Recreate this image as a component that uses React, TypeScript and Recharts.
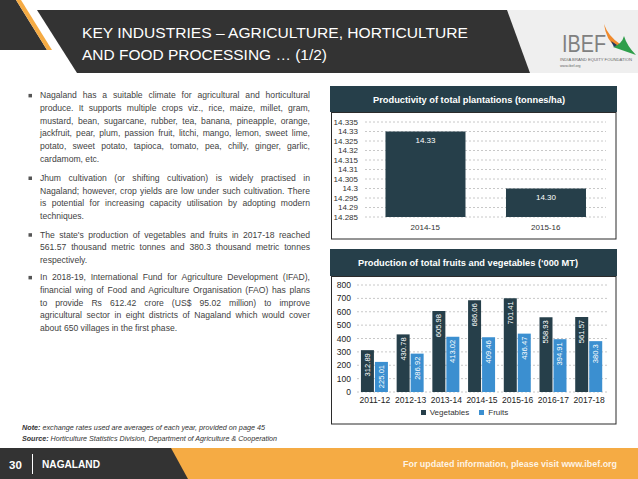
import React from 'react';
import { BarChart, Bar, XAxis, YAxis, CartesianGrid, LabelList, Legend } from 'recharts';

// ---------- data ----------
const prodYears = ['2014-15', '2015-16'];
const prodValues = [14.33, 14.3];
const prodTickLabels = ['14.285', '14.29', '14.295', '14.3', '14.305', '14.31', '14.315', '14.32', '14.325', '14.33', '14.335'];

const fvYears = ['2011-12', '2012-13', '2013-14', '2014-15', '2015-16', '2016-17', '2017-18'];
const vegetables = [312.89, 430.78, 605.98, 686.06, 701.41, 558.93, 561.57];
const fruits = [225.01, 286.92, 413.02, 409.46, 436.47, 394.91, 380.3];
const fvTicks = [0, 100, 200, 300, 400, 500, 600, 700, 800];
const seriesOrder = ['Vegetables', 'Fruits'];

const bullets = [
  [
    'Nagaland has a suitable climate for agricultural and horticultural',
    'produce. It supports multiple crops viz., rice, maize, millet, gram,',
    'mustard, bean, sugarcane, rubber, tea, banana, pineapple, orange,',
    'jackfruit, pear, plum, passion fruit, litchi, mango, lemon, sweet lime,',
    'potato, sweet potato, tapioca, tomato, pea, chilly, ginger, garlic,',
    'cardamom, etc.',
  ],
  [
    'Jhum cultivation (or shifting cultivation) is widely practised in',
    'Nagaland; however, crop yields are low under such cultivation. There',
    'is potential for increasing capacity utilisation by adopting modern',
    'techniques.',
  ],
  [
    "The state's production of vegetables and fruits in 2017-18 reached",
    '561.57 thousand metric tonnes and 380.3 thousand metric tonnes',
    'respectively.',
  ],
  [
    'In 2018-19, International Fund for Agriculture Development (IFAD),',
    'financial wing of Food and Agriculture Organisation (FAO) has plans',
    'to provide Rs 612.42 crore (US$ 95.02 million) to improve',
    'agricultural sector in eight districts of Nagaland which would cover',
    'about 650 villages in the first phase.',
  ],
];

// ---------- derived tables ----------
const prodData = prodYears.map((year, i) => ({ year, value: prodValues[i] }));
const prodTicks = prodTickLabels.map(Number);
const fvData = fvYears.map((year, i) => ({ year, Vegetables: vegetables[i], Fruits: fruits[i] }));

// ---------- styles ----------
const FONT = '"Liberation Sans", Arial, sans-serif';
const DARK = '#263F4A';
const BLUE = '#3B8FD0';
const ORANGE = '#F5AB44';
const HEADER = '#333333';
const paraTops = [95.7, 178.3, 235, 277.7];
const LINE_H = 12.7;

const VerticalLabel = (props: any) => {
  const vb = props.viewBox || props;
  const x = Number(vb.x ?? props.x);
  const y = Number(vb.y ?? props.y);
  const w = Number(vb.width ?? props.width);
  const cx = x + w / 2;
  const ty = y + 3;
  return (
    <text
      x={cx}
      y={ty}
      transform={`rotate(-90 ${cx} ${ty})`}
      textAnchor="end"
      dominantBaseline="central"
      fill="#ffffff"
      fontSize={7.6}
    >
      {props.value}
    </text>
  );
};

export default function App() {
  return (
    <div
      style={{
        position: 'absolute',
        left: 0,
        top: 0,
        width: 638,
        height: 479,
        overflow: 'hidden',
        background: '#fff',
        fontFamily: FONT,
      }}
    >
      <svg width={638} height={479} style={{ position: 'absolute', left: 0, top: 0 }} fontFamily={FONT}>
        {/* header */}
        <rect x={506} y={10} width={132} height={63} fill="#efefef" />
        <polygon points="0,0 16,0 47,50 0,50" fill={HEADER} />
        <polygon points="16,0 21,0 52,50 47,50" fill={ORANGE} />
        <polygon points="37,10 507,10 530,73 77,73" fill={HEADER} />
        <text x={82} y={37.5} fontSize={15.4} fill="#fff" textLength={386} lengthAdjust="spacingAndGlyphs">
          KEY INDUSTRIES – AGRICULTURE, HORTICULTURE
        </text>
        <text x={82} y={59.5} fontSize={15.4} fill="#fff" textLength={245} lengthAdjust="spacingAndGlyphs">
          AND FOOD PROCESSING … (1/2)
        </text>
        {/* logo */}
        <text x={562} y={52} fontSize={23} fill="#808080" textLength={44} lengthAdjust="spacingAndGlyphs">
          IBEF
        </text>
        <path d="M604,24 Q608,36 620,44 L616,47 Q606,40 604,24 Z" fill="#F08A2C" />
        <path d="M613,47 L636,55 Q627,46 624,36 Q622,44 613,47 Z" fill="#2E9E4A" />
        <path d="M611,41 L617,45 L614,47 Z" fill="#1F3A60" />
        <text x={560} y={61} fontSize={3.4} fill="#666" textLength={72} lengthAdjust="spacingAndGlyphs">
          INDIA BRAND EQUITY FOUNDATION
        </text>
        <text x={560} y={67} fontSize={3.6} fill="#666">
          www.ibef.org
        </text>

        {/* bullets */}
        {paraTops.map((t, i) => (
          <rect key={i} x={28.5} y={t - 1.8} width={3.5} height={3.5} fill="#555" />
        ))}

        {/* chart 1 frame */}
        <rect x={330} y={86} width={287} height={26} fill={DARK} />
        <text x={373} y={102.5} fontSize={8.5} fontWeight="bold" fill="#fff" textLength={192} lengthAdjust="spacingAndGlyphs">
          Productivity of total plantations (tonnes/ha)
        </text>
        <rect x={331.5} y={112.5} width={284.5} height={126.5} fill="none" stroke="#2b2b2b" strokeWidth={1} />

        {/* chart 2 frame */}
        <rect x={330} y={249} width={287} height={27} fill={DARK} />
        <text x={358} y={265.5} fontSize={8.5} fontWeight="bold" fill="#fff" textLength={220} lengthAdjust="spacingAndGlyphs">
          Production of total fruits and vegetables (‘000 MT)
        </text>
        <rect x={331.5} y={276.5} width={284.5} height={147.5} fill="none" stroke="#2b2b2b" strokeWidth={1} />

        {/* footnote */}
        <text x={22} y={429.5} fontSize={7} fontStyle="italic" fill="#333" textLength={243} lengthAdjust="spacingAndGlyphs">
          <tspan fontWeight="bold">Note:</tspan> exchange rates used are averages of each year, provided on page 45
        </text>
        <text x={22} y={441} fontSize={7} fontStyle="italic" fill="#333" textLength={255} lengthAdjust="spacingAndGlyphs">
          <tspan fontWeight="bold">Source:</tspan> Horticulture Statistics Division, Department of Agriculture &amp; Cooperation
        </text>

        {/* footer */}
        <rect x={0} y={448} width={638} height={31} fill={ORANGE} />
        <polygon points="0,448 171,448 188,479 0,479" fill={HEADER} />
        <text x={9} y={468.5} fontSize={11.5} fontWeight="bold" fill="#fff">
          30
        </text>
        <line x1={32.5} y1={454} x2={32.5} y2={474} stroke="#fff" strokeWidth={1} />
        <text x={42} y={468} fontSize={10} fontWeight="bold" fill="#fff" textLength={58} lengthAdjust="spacingAndGlyphs">
          NAGALAND
        </text>
        <text x={403} y={467} fontSize={8.5} fontWeight="bold" fill="#fff" fillOpacity={0.88} textLength={214} lengthAdjust="spacingAndGlyphs">
          For updated information, please visit www.ibef.org
        </text>
      </svg>

      {/* body text */}
      {bullets.map((lines, pi) => (
        <div
          key={pi}
          style={{
            position: 'absolute',
            left: 40,
            top: paraTops[pi] - LINE_H / 2,
            width: 270,
            fontSize: 8.6,
            color: '#3f3f3f',
          }}
        >
          {lines.map((ln, li) => (
            <div
              key={li}
              style={{
                height: LINE_H,
                lineHeight: `${LINE_H}px`,
                textAlign: 'justify',
                textAlignLast: li === lines.length - 1 ? 'left' : 'justify',
                whiteSpace: 'nowrap',
              } as any}
            >
              {ln}
            </div>
          ))}
        </div>
      ))}

      {/* chart 1 */}
      <div style={{ position: 'absolute', left: 332, top: 113 }}>
        <BarChart width={284} height={125} data={prodData} margin={{ top: 9, right: 10, bottom: 0, left: 0 }} barCategoryGap="17%">
          <CartesianGrid xAxisId="cat" vertical={false} stroke="#c8c8c8" strokeDasharray="2 2" />
          <XAxis
            xAxisId="edge"
            type="number"
            domain={[0, prodYears.length]}
            ticks={[...prodYears.map((_, i) => i), prodYears.length]}
            tickFormatter={() => ''}
            height={0}
            tickSize={3}
            axisLine={{ stroke: '#9a9a9a' }}
            tickLine={{ stroke: '#9a9a9a' }}
          />
          <XAxis
            xAxisId="cat"
            dataKey="year"
            height={21}
            axisLine={false}
            tickLine={false}
            tickSize={5}
            tickMargin={2}
            tick={{ fontSize: 8, fill: '#333' }}
          />
          <YAxis
            width={33}
            domain={[prodTicks[0], prodTicks[prodTicks.length - 1]]}
            ticks={prodTicks}
            tickFormatter={(v: number) => prodTickLabels[prodTicks.indexOf(v)] ?? String(v)}
            axisLine={false}
            tickLine={false}
            tickSize={5}
            tickMargin={2}
            interval={0}
            tick={{ fontSize: 8, fill: '#333' }}
          />
          <Bar xAxisId="cat" dataKey="value" fill={DARK} isAnimationActive={false}>
            <LabelList
              dataKey="value"
              position="insideTop"
              offset={6}
              fill="#fff"
              fontSize={8}
              formatter={(v: any) => Number(v).toFixed(2)}
            />
          </Bar>
        </BarChart>
      </div>

      {/* chart 2 */}
      <div style={{ position: 'absolute', left: 332, top: 277 }}>
        <BarChart
          width={284}
          height={146}
          data={fvData}
          margin={{ top: 8, right: 9, bottom: 1, left: 0 }}
          barCategoryGap="11%"
          barGap={1}
        >
          <CartesianGrid xAxisId="cat" vertical={false} stroke="#c8c8c8" strokeDasharray="2 2" />
          <XAxis
            xAxisId="edge"
            type="number"
            domain={[0, fvYears.length]}
            ticks={[...fvYears.map((_, i) => i), fvYears.length]}
            tickFormatter={() => ''}
            height={0}
            tickSize={3}
            axisLine={{ stroke: '#9a9a9a' }}
            tickLine={{ stroke: '#9a9a9a' }}
          />
          <XAxis
            xAxisId="cat"
            dataKey="year"
            height={16}
            axisLine={false}
            tickLine={false}
            tickSize={3}
            tickMargin={2}
            interval={0}
            tick={{ fontSize: 8.5, fill: '#222' }}
          />
          <YAxis
            width={25}
            domain={[0, 800]}
            ticks={fvTicks}
            axisLine={false}
            tickLine={false}
            tickSize={5}
            tickMargin={1}
            interval={0}
            tick={{ fontSize: 8.5, fill: '#222' }}
          />
          <Legend
            verticalAlign="bottom"
            height={14}
            iconType="square"
            iconSize={5}
            itemSorter={(item: any) => seriesOrder.indexOf(item.value)}
            wrapperStyle={{ fontSize: 8 }}
            formatter={(value: any) => <span style={{ color: '#333' }}>{value}</span>}
          />
          <Bar xAxisId="cat" dataKey="Vegetables" fill={DARK} isAnimationActive={false}>
            <LabelList dataKey="Vegetables" content={<VerticalLabel />} />
          </Bar>
          <Bar xAxisId="cat" dataKey="Fruits" fill={BLUE} isAnimationActive={false}>
            <LabelList dataKey="Fruits" content={<VerticalLabel />} />
          </Bar>
        </BarChart>
      </div>
    </div>
  );
}
